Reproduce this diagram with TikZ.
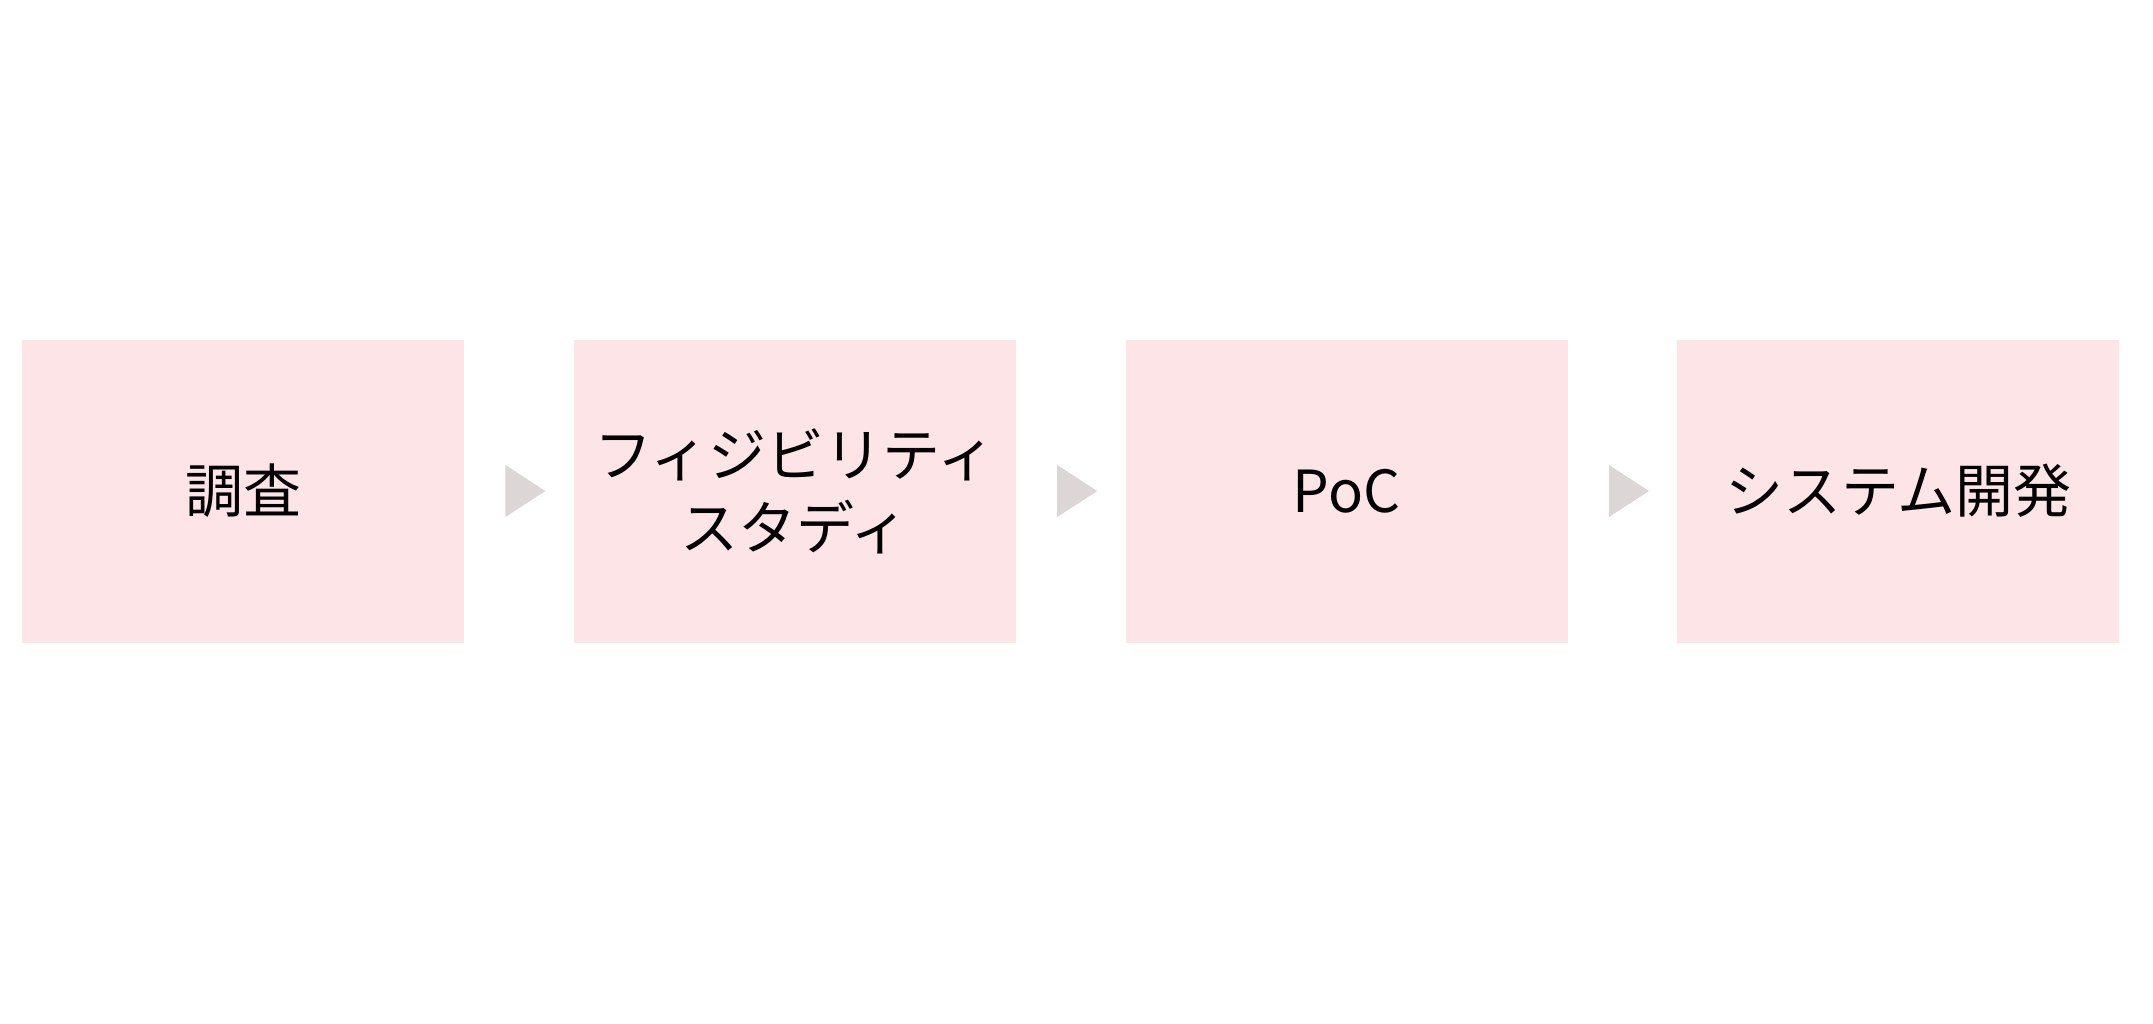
\documentclass[tikz,border=0pt]{standalone}
\usepackage{fontspec}
\setmainfont{Noto Sans CJK JP}
\usepackage{tikz}
\usetikzlibrary{positioning}
\definecolor{boxpink}{RGB}{253,228,230}
\definecolor{arrowgray}{RGB}{220,214,214}

\begin{document}
\begin{tikzpicture}[x=0.5pt,y=-0.5pt,
  stagebox/.style={fill=boxpink, minimum width=221pt, minimum height=151.5pt,
    inner sep=0pt, align=center, font=\fontsize{29pt}{36.5pt}\selectfont}]
  \useasboundingbox (0,0) rectangle (2153,1023);
  \node[stagebox] (survey) at (243,491) {調査};
  \node[stagebox, right=54.5pt of survey] (feasibility) {フィジビリティ\\スタディ};
  \node[stagebox, right=54.5pt of feasibility] (poc) {PoC};
  \node[stagebox, right=54.5pt of poc] (develop) {システム開発};

  \path[fill=arrowgray] ([xshift=20.5pt,yshift=13pt]survey.east) --++(40,26)--++(-40,26)--cycle;
  \path[fill=arrowgray] ([xshift=20.5pt,yshift=13pt]feasibility.east) --++(40,26)--++(-40,26)--cycle;
  \path[fill=arrowgray] ([xshift=20.5pt,yshift=13pt]poc.east) --++(40,26)--++(-40,26)--cycle;
\end{tikzpicture}
\end{document}
